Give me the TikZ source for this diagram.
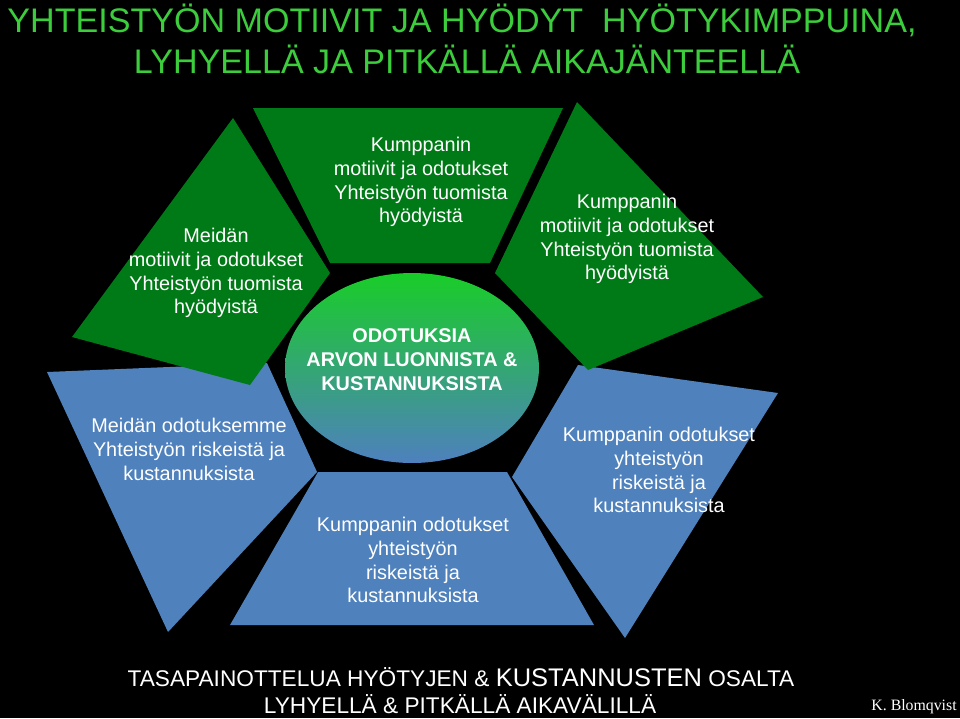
\documentclass[tikz,border=0pt]{standalone}
\usepackage{fontspec}
\setmainfont{Liberation Sans}
\newfontfamily\signfont{Liberation Serif}
\usetikzlibrary{shapes.geometric}
\definecolor{piecegreen}{RGB}{0,122,22}
\definecolor{pieceblue}{RGB}{79,129,189}
\definecolor{titlegreen}{RGB}{60,205,60}
\definecolor{coretop}{RGB}{25,205,40}
\definecolor{coremid}{RGB}{50,178,115}
\definecolor{corebottom}{RGB}{78,128,190}

\begin{document}
\begin{tikzpicture}
[x=0.02cm, y=-0.02cm,
  greendecorate/.style={fill=piecegreen},
  bluedecorate/.style={fill=pieceblue},
  textdecorate/.style={text=white, align=center, inner sep=0pt,
    font=\fontsize{11.3}{13.6}\selectfont},
  titledecorate/.style={text=titlegreen, anchor=base, inner sep=0pt,
    font=\fontsize{19.4}{20}\selectfont},
  footdecorate/.style={text=white, anchor=base, inner sep=0pt,
    font=\fontsize{12.9}{14}\selectfont}]
%% background
\fill[black] (0,0) rectangle (960,718);
\useasboundingbox (0,0) rectangle (960,718);
%% blue pieces
\fill[bluedecorate] (47,372) -- (267,363) -- (317,472) -- (168,632) -- cycle;
\fill[bluedecorate] (318,472) -- (507,472) -- (594,625) -- (230,625) -- cycle;
\fill[bluedecorate] (578,365) -- (778,393) -- (625,638) -- (512,477) -- cycle;
%% green pieces
\fill[greendecorate] (233,118) -- (330,273) -- (250,385) -- (72,337) -- cycle;
\fill[greendecorate] (253,108) -- (563,108) -- (490,263) -- (330,263) -- cycle;
\fill[greendecorate] (577,102) -- (763,297) -- (588,370) -- (495,273) -- cycle;
%% centre
\node (core) at (412,368) [ellipse, inner sep=0pt, minimum width=5.08cm,
  minimum height=3.8cm, top color=coretop, middle color=coremid,
  bottom color=corebottom] {};
\node (coretext) at (412,360) [textdecorate, font=\bfseries\fontsize{11.3}{13.6}\selectfont]
  {ODOTUKSIA\\ARVON LUONNISTA \&\\KUSTANNUKSISTA};
%% piece texts
\foreach \nodename/\x/\y/\content in {
  ourgain/216/273/{Meidän\\motiivit ja odotukset\\Yhteistyön tuomista\\hyödyistä},
  partnergain/421/182/{Kumppanin\\motiivit ja odotukset\\Yhteistyön tuomista\\hyödyistä},
  othergain/627/239/{Kumppanin\\motiivit ja odotukset\\Yhteistyön tuomista\\hyödyistä},
  ourcost/189/449/{Meidän odotuksemme\\Yhteistyön riskeistä ja\\kustannuksista},
  partnercost/413/560/{Kumppanin odotukset\\yhteistyön\\riskeistä ja\\kustannuksista},
  othercost/659/470/{Kumppanin odotukset\\yhteistyön\\riskeistä ja\\kustannuksista}}
{
  \node (\nodename) at (\x,\y) [textdecorate] {\content};
}
%% title and footer
\node (title) at (462,32) [titledecorate] {YHTEISTYÖN MOTIIVIT JA HYÖDYT\ \ HYÖTYKIMPPUINA,};
\node (subtitle) at (467,73) [titledecorate] {LYHYELLÄ JA PITKÄLLÄ AIKAJÄNTEELLÄ};
\node (balance) at (461,686) [footdecorate]
  {TASAPAINOTTELUA HYÖTYJEN \& {\fontsize{14.5}{15}\selectfont KUSTANNUSTEN} OSALTA};
\node (period) at (460,713) [footdecorate] {LYHYELLÄ \& PITKÄLLÄ AIKAVÄLILLÄ};
\node (sign) at (957,710) [anchor=base east, text=white, inner sep=0pt,
  font=\signfont\fontsize{9}{10}\selectfont] {K. Blomqvist};
\end{tikzpicture}
\end{document}
